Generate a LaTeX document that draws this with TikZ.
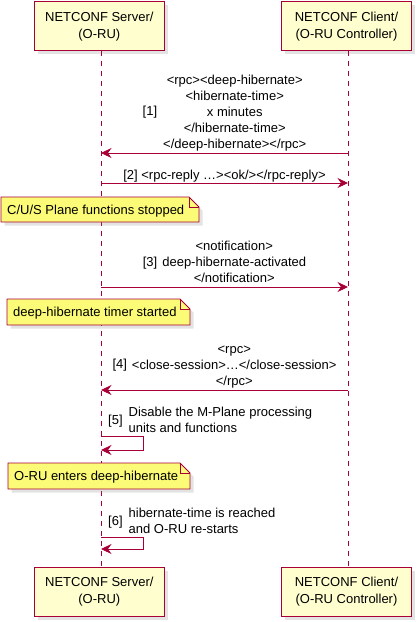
\documentclass[tikz,border=0pt]{standalone}
\usepackage{fontspec}
\setmainfont{Liberation Sans}
\usetikzlibrary{arrows.meta,shadows}
\definecolor{plborder}{HTML}{A80036}
\definecolor{plpart}{HTML}{FEFECE}
\definecolor{plnote}{HTML}{FBFB77}
\newcommand{\plnotepath}[4]{% x1,y1,x2,y2
  \filldraw[notebody] (#1,#2) -- (#3-10,#2) -- (#3,#2+10) -- (#3,#4) -- (#1,#4) -- cycle;
  \draw[notefold] (#3-10,#2) -- (#3-10,#2+10) -- (#3,#2+10);
}
\begin{document}
\begin{tikzpicture}[x=1pt,y=-1pt,
  part/.style={draw=plborder, line width=1.1pt, fill=plpart, minimum width=130.5pt,
    minimum height=49pt, inner sep=0pt, align=center, font=\fontsize{13}{17}\selectfont,
    drop shadow={opacity=0.22, shadow xshift=3.5pt, shadow yshift=-3.5pt}},
  life/.style={draw=plborder, line width=0.8pt, dash pattern=on 5pt off 5pt},
  msg/.style={draw=plborder, line width=0.9pt, -{Stealth[length=10.5pt,width=10pt,inset=3.5pt]}},
  lbl/.style={inner sep=0pt, font=\fontsize{13}{16}\selectfont, align=center},
  notebody/.style={draw=plborder, line width=0.8pt, fill=plnote,
    drop shadow={opacity=0.22, shadow xshift=3.5pt, shadow yshift=-3.5pt}},
  notefold/.style={draw=plborder, line width=0.8pt},
  notetext/.style={inner sep=0pt, anchor=west, font=\fontsize{13}{16}\selectfont}]
\useasboundingbox[fill=white] (0,0) rectangle (416,622);

% participants
\node[part] (s1) at (99.3,26.3) {NETCONF Server/\\(O-RU)};
\node[part] (c1) at (346.5,26.3) {NETCONF Client/\\(O-RU Controller)};
\node[part] (s2) at (99.3,591.8) {NETCONF Server/\\(O-RU)};
\node[part] (c2) at (346.5,591.8) {NETCONF Client/\\(O-RU Controller)};

% lifelines
\coordinate (sl) at (101,0);
\coordinate (cl) at (348,0);
\draw[life] (s1.south -| sl) -- (s2.north -| sl);
\draw[life] (c1.south -| cl) -- (c2.north -| cl);

% message 1
\coordinate (m1c) at (348,153); \coordinate (m1s) at (101,153);
\draw[msg] (m1c) -- (m1s);
\node[lbl] (t1) at (224.5,112.8) {[1]\hspace{6pt}\begin{tabular}{@{}c@{}}<rpc><deep-hibernate>\\<hibernate-time>\\x minutes\\</hibernate-time>\\</deep-hibernate></rpc>\end{tabular}};

% message 2
\coordinate (m2s) at (101,183); \coordinate (m2c) at (348,183);
\draw[msg] (m2s) -- (m2c);
\node[lbl] (t2) at (224.5,176) {[2] <rpc-reply …><ok/></rpc-reply>};

% note 1
\plnotepath{1}{197}{199}{222}
\node[notetext] (n1) at (7,211) {C/U/S Plane functions stopped};

% message 3
\coordinate (m3s) at (101,287); \coordinate (m3c) at (348,287);
\draw[msg] (m3s) -- (m3c);
\node[lbl] (t3) at (224.5,263) {[3]\hspace{5pt}\begin{tabular}{@{}c@{}}<notification>\\deep-hibernate-activated\\</notification>\end{tabular}};

% note 2
\plnotepath{7}{299}{190}{325}
\node[notetext] (n2) at (13,313.5) {deep-hibernate timer started};

% message 4
\coordinate (m4c) at (348,390); \coordinate (m4s) at (101,390);
\draw[msg] (m4c) -- (m4s);
\node[lbl] (t4) at (224.5,365.8) {[4]\hspace{5pt}\begin{tabular}{@{}c@{}}<rpc>\\<close-session>…</close-session>\\</rpc>\end{tabular}};

% message 5 (self)
\coordinate (m5a) at (101,436); \coordinate (m5b) at (101,450);
\draw[msg] (m5a) -- ++(42,0) |- (m5b);
\node[lbl, anchor=west] (t5) at (108,421.3) {[5]\hspace{6pt}\begin{tabular}{@{}l@{}}Disable the M-Plane processing\\units and functions\end{tabular}};

% note 3
\plnotepath{8}{463}{190}{489}
\node[notetext] (n3) at (14,477.5) {O-RU enters deep-hibernate};

% message 6 (self)
\coordinate (m6a) at (101,537); \coordinate (m6b) at (101,549);
\draw[msg] (m6a) -- ++(42,0) |- (m6b);
\node[lbl, anchor=west] (t6) at (108,522) {[6]\hspace{6pt}\begin{tabular}{@{}l@{}}hibernate-time is reached\\and O-RU re-starts\end{tabular}};
\end{tikzpicture}
\end{document}
